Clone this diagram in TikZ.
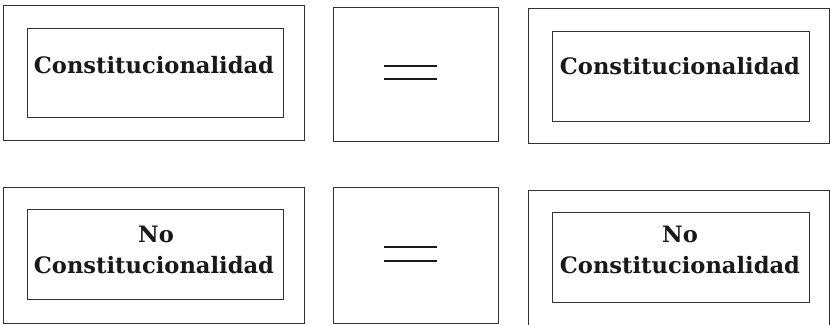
\documentclass[tikz,border=0pt]{standalone}
\usepackage{fontspec}
\setmainfont{DejaVu Serif}
\tikzset{
  frame/.style={draw=black!80, line width=1pt, rectangle, inner sep=0pt},
  lbl/.style={font=\fontsize{22.6}{26}\selectfont\bfseries, inner sep=0pt, anchor=base, text=black!90},
  eqline/.style={line width=2.3pt, draw=black!90}
}
\begin{document}
\begin{tikzpicture}[x=1pt,y=-1pt]
\useasboundingbox (0,0) rectangle (830,324);
\clip (0,0) rectangle (830,324);
% top row
\node[frame, minimum width=301pt, minimum height=135pt] (o1) at (153.5,72.5) {};
\node[frame, minimum width=256pt, minimum height=89pt] (i1) at (155,72.5) {};
\node[lbl] (t1) at (154,73) {Constitucionalidad};
\node[frame, minimum width=165pt, minimum height=134pt] (e1) at (415.5,74) {};
\coordinate (e1a) at (384,66); \coordinate (e1b) at (437,66);
\coordinate (e1c) at (384,79); \coordinate (e1d) at (437,79);
\draw[eqline] (e1a) -- (e1b);
\draw[eqline] (e1c) -- (e1d);
\node[frame, minimum width=301.5pt, minimum height=135pt] (o2) at (678.75,75.5) {};
\node[frame, minimum width=257pt, minimum height=90pt] (i2) at (680.5,76) {};
\node[lbl] (t2) at (680,74) {Constitucionalidad};
% bottom row
\node[frame, minimum width=301pt, minimum height=136pt] (o3) at (153.5,255) {};
\node[frame, minimum width=256pt, minimum height=90pt] (i3) at (155,254) {};
\node[lbl] (t3a) at (156,242) {No};
\node[lbl] (t3b) at (154,273) {Constitucionalidad};
\node[frame, minimum width=165pt, minimum height=136pt] (e2) at (415.5,255) {};
\coordinate (e2a) at (384,247); \coordinate (e2b) at (437,247);
\coordinate (e2c) at (384,261); \coordinate (e2d) at (437,261);
\draw[eqline] (e2a) -- (e2b);
\draw[eqline] (e2c) -- (e2d);
\node[frame, minimum width=301.5pt, minimum height=150pt] (o4) at (678.75,265) {};
\node[frame, minimum width=257pt, minimum height=90pt] (i4) at (680.5,257) {};
\node[lbl] (t4a) at (680,242) {No};
\node[lbl] (t4b) at (680,273) {Constitucionalidad};
\end{tikzpicture}
\end{document}
